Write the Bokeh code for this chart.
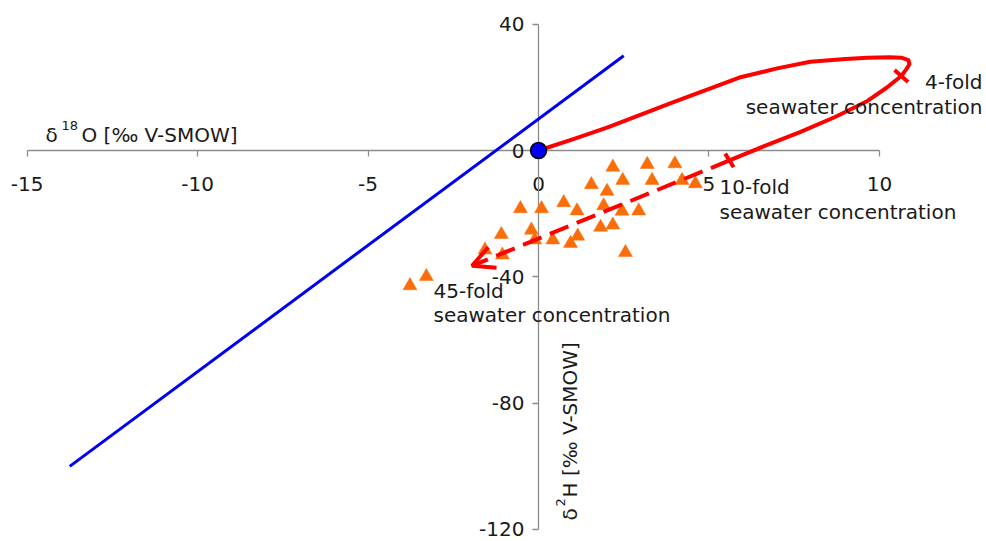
import math
from bokeh.plotting import figure
from bokeh.models import (Range1d, LinearAxis, FixedTicker, Label, Arrow, OpenHead)
from bokeh.embed import file_html
from bokeh.resources import INLINE

# ---- data ----
x_ticks = [-15, -10, -5, 0, 5, 10]
y_ticks = [-120, -80, -40, 0, 40]

# Global meteoric water line (dH = 8 dO + 10)
gmwl_x = [-13.75, 2.5]
gmwl_y = [-100.0, 30.0]

# seawater reference point
smow_x = [0.0]
smow_y = [0.0]

# evaporation path of seawater (solid part)
evap_x = [0.0, 1.0, 2.03, 3.92, 5.89, 7.0, 7.97, 9.0, 9.65, 10.3, 10.64, 10.85, 10.88,
          10.78, 10.64, 10.2, 9.65, 8.7, 7.67, 6.6, 5.6]
evap_y = [0.0, 3.5, 7.34, 15.2, 23.1, 26.0, 28.1, 29.0, 29.4, 29.5, 29.4, 28.6, 27.3,
          25.6, 23.6, 19.8, 15.7, 10.6, 5.8, 1.3, -3.15]

# dashed continuation (10-fold -> 45-fold)
dash_start = (5.6, -3.15)
dash_end = (-1.95, -36.5)

# marks on the path (4-fold, 10-fold)
mark_x = [10.64, 5.6]
mark_y = [23.6, -3.15]

# samples
samp_x = [2.18, 3.19, 4.00, 2.47, 3.33, 4.21, 4.60, 1.55, 2.01, 0.74,
          -0.53, 0.09, 1.13, 1.91, 2.45, 2.94, -0.21, -1.09, 1.82, 2.18,
          -0.11, 0.42, 0.94, 1.15, 2.55, -1.57, -1.06, -3.77, -3.29]
samp_y = [-5.26, -4.41, -4.19, -9.45, -9.45, -9.45, -10.5, -10.8, -12.9, -16.5,
          -18.4, -18.4, -19.1, -17.5, -19.2, -19.1, -25.2, -26.6, -24.3, -23.6,
          -28.3, -28.3, -29.4, -27.1, -32.3, -31.5, -33.1, -42.8, -39.9]

W, H = 986, 541
FONT = "DejaVu Sans"
TXT = "#1a1a1a"
AX = "#8c8c8c"
RED = "#FF0000"
BLUE = "#0000F0"
ORANGE = "#FA6E0A"

p = figure(width=W, height=H, output_backend="svg", toolbar_location=None,
           x_range=Range1d(-15.78, 13.14), y_range=Range1d(-123.8, 47.5),
           x_axis_location=None, y_axis_location=None, min_border=0,
           outline_line_color=None)
p.grid.visible = False
p.background_fill_color = "white"
p.border_fill_color = "white"

xaxis = LinearAxis(fixed_location=0, ticker=FixedTicker(ticks=x_ticks), bounds=(-15, 10))
yaxis = LinearAxis(fixed_location=0, ticker=FixedTicker(ticks=y_ticks), bounds=(-120, 40))
xaxis.major_label_overrides = {t: str(t) for t in x_ticks}
yaxis.major_label_overrides = {t: str(t) for t in y_ticks}
for ax in (xaxis, yaxis):
    ax.axis_line_color = AX
    ax.axis_line_width = 1.3
    ax.major_tick_line_color = AX
    ax.major_tick_line_width = 1.3
    ax.major_tick_out = 6
    ax.major_tick_in = 0
    ax.minor_tick_out = 0
    ax.minor_tick_in = 0
    ax.major_label_text_font = FONT
    ax.major_label_text_font_size = "20px"
    ax.major_label_text_color = TXT
    ax.level = "underlay"
xaxis.major_label_standoff = 20
yaxis.major_label_standoff = 8
p.add_layout(xaxis, "below")
p.add_layout(yaxis, "left")

# GMWL
p.line(gmwl_x, gmwl_y, line_color=BLUE, line_width=3)

# samples
p.scatter(samp_x, samp_y, marker="triangle", size=14, fill_color=ORANGE,
          line_color=ORANGE, line_width=0.5)

# evaporation path
p.line(evap_x, evap_y, line_color=RED, line_width=4, line_join="round", line_cap="round")
arrow = Arrow(x_start=dash_start[0], y_start=dash_start[1], x_end=dash_end[0], y_end=dash_end[1],
              line_color=RED, line_width=4, line_dash="20 9",
              end=OpenHead(size=22, line_color=RED, line_width=4))
p.add_layout(arrow)

# marks on the path
p.scatter(mark_x[:1], mark_y[:1], marker="dash", size=18, angle=math.radians(-41),
          line_color=RED, line_width=4)
p.scatter(mark_x[1:], mark_y[1:], marker="dash", size=16, angle=math.radians(-58),
          line_color=RED, line_width=4)

# SMOW point
p.scatter(smow_x, smow_y, marker="circle", size=16, fill_color=BLUE,
          line_color="black", line_width=1.5)


def lab(text, x, y_top, align="left", size="20px", angle=0.0):
    p.add_layout(Label(x=x, y=H - y_top, x_units="screen", y_units="screen", text=text,
                       text_font=FONT, text_font_size=size, text_color=TXT,
                       text_align=align, text_baseline="alphabetic", angle=angle))


lab("4-fold", 982, 81, align="right")
lab("seawater concentration", 982, 106, align="right")
lab("10-fold", 719, 186)
lab("seawater concentration", 719, 211)
lab("45-fold", 433, 290)
lab("seawater concentration", 433, 314)

# axis titles (superscripts as smaller raised text)
lab("δ", 45, 134)
lab("18", 61, 125, size="13px")
lab("O [‰ V-SMOW]", 81, 134)

lab("δ", 569, 520, angle=math.pi / 2)
lab("2", 560, 506, size="13px", angle=math.pi / 2)
lab("H [‰ V-SMOW]", 569, 497, angle=math.pi / 2)

open("out.html", "w").write(file_html(p, INLINE))
